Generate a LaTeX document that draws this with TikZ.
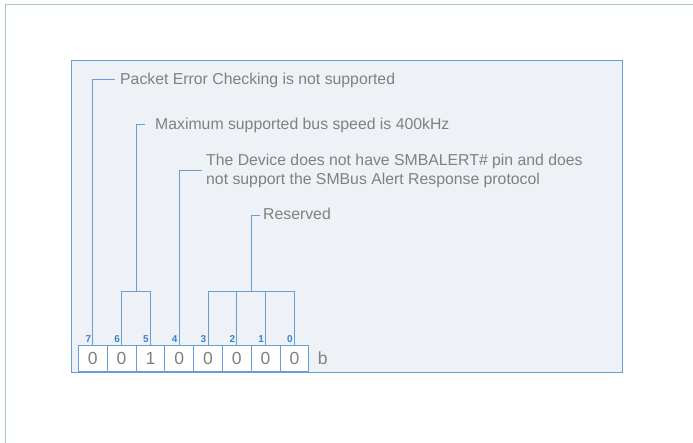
\documentclass[tikz,border=0pt]{standalone}
\usepackage{fontspec}
\setmainfont{Liberation Sans}
\definecolor{lineblue}{RGB}{100,160,215}
\definecolor{bitblue}{RGB}{60,130,200}
\definecolor{boxfill}{RGB}{238,242,247}
\definecolor{txtgray}{RGB}{128,128,128}
\definecolor{framegray}{RGB}{170,198,208}

\begin{document}
\begin{tikzpicture}[x=1pt,y=-1pt,
  cell/.style={draw=lineblue,fill=white,line width=0.9pt,minimum width=28.8pt,minimum height=26.4pt,inner sep=0pt,text=txtgray,font=\fontsize{17.5}{18}\selectfont},
  bitno/.style={text=bitblue,font=\fontsize{10}{11}\selectfont\bfseries,inner sep=0pt,anchor=south east},
  note/.style={text=txtgray,font=\fontsize{15.8}{19}\selectfont,inner sep=0pt,anchor=base west,align=left},
  lead/.style={draw=lineblue,line width=0.9pt}]
\def\up{-53.6}
\def\y{358.5}

\useasboundingbox (0,0) rectangle (693,443);
\draw [framegray, line width=1pt] (5,443) -- (5,5) -- (693,5);
\draw [lineblue, fill=boxfill, line width=1pt] (71.5,61) rectangle (622,372);

\node [cell] (c7) at (92.8,\y) {0};
\node [cell] (c6) at (121.6,\y) {0};
\node [cell] (c5) at (150.4,\y) {1};
\node [cell] (c4) at (179.2,\y) {0};
\node [cell] (c3) at (208.0,\y) {0};
\node [cell] (c2) at (236.8,\y) {0};
\node [cell] (c1) at (265.6,\y) {0};
\node [cell] (c0) at (294.4,\y) {0};
\node [text=txtgray, font=\fontsize{17.5}{18}\selectfont] (unit) at (322.7,\y) {b};

\node [bitno] (n7) at ([xshift=-1.5pt,yshift=2pt]c7.north) {7};
\node [bitno] (n6) at ([xshift=-1.5pt,yshift=2pt]c6.north) {6};
\node [bitno] (n5) at ([xshift=-1.5pt,yshift=2pt]c5.north) {5};
\node [bitno] (n4) at ([xshift=-1.5pt,yshift=2pt]c4.north) {4};
\node [bitno] (n3) at ([xshift=-1.5pt,yshift=2pt]c3.north) {3};
\node [bitno] (n2) at ([xshift=-1.5pt,yshift=2pt]c2.north) {2};
\node [bitno] (n1) at ([xshift=-1.5pt,yshift=2pt]c1.north) {1};
\node [bitno] (n0) at ([xshift=-1.5pt,yshift=2pt]c0.north) {0};

\node [note] (pec) at (120,84.3) {Packet Error Checking is not supported};
\node [note] (msb) at (155,130) {Maximum supported bus speed is 400kHz};
\node [note] (alert) at (206,185) {The Device does not have SMBALERT\# pin and does\\not support the SMBus Alert Response protocol};
\node [note] (res) at (263,220) {Reserved};

\draw [lead] (c7.north) |- ([xshift=-5pt,yshift=5.3pt]pec.base west);

\draw [lead] (c6.north) -- ++(0,\up) -| (c5.north);
\coordinate (j65) at (136,291.7);
\draw [lead] (j65) |- ([xshift=-10pt,yshift=5.7pt]msb.base west);

\draw [lead] (c4.north) |- ([xshift=-4.3pt,yshift=14.3pt]alert.base west);

\draw [lead] (c3.north) -- ++(0,\up) -| (c0.north);
\draw [lead] (c2.north) -- ++(0,\up);
\draw [lead] (c1.north) -- ++(0,\up);
\coordinate (jres) at (251.2,291.7);
\draw [lead] (jres) |- ([xshift=-3pt,yshift=5pt]res.base west);
%\node at (400,400) {};
\end{tikzpicture}
\end{document}
